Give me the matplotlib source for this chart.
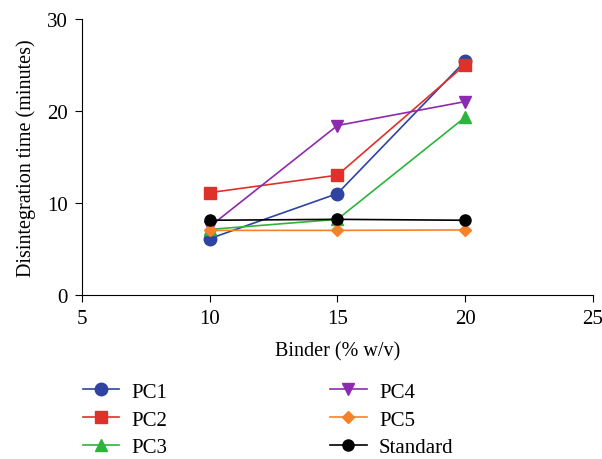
import matplotlib.pyplot as plt
import numpy as np

plt.rcParams['font.family'] = ['Liberation Serif', 'DejaVu Serif']

binder = [10, 15, 20]
pc1 = [6.1, 11.0, 25.4]
pc2 = [11.1, 13.0, 25.0]
pc3 = [7.1, 8.2, 19.3]
pc4 = [7.4, 18.4, 21.0]
pc5 = [7.0, 7.0, 7.05]
standard = [8.1, 8.2, 8.1]

series = [
    ("PC1", pc1, "#2E44A0", "o", 9),
    ("PC2", pc2, "#E0302A", "s", 8),
    ("PC3", pc3, "#2DB43C", "^", 9),
    ("PC4", pc4, "#8E2AB0", "v", 9),
    ("PC5", pc5, "#F5822A", "D", 6.5),
    ("Standard", standard, "#000000", "o", 8),
]

fig = plt.figure(figsize=(6.02, 4.60), dpi=100)
ax = fig.add_axes([0.136, 0.357, 0.849, 0.6])

handles = []
for name, vals, col, mk, ms in series:
    h, = ax.plot(binder, vals, color=col, marker=mk, markersize=ms, linewidth=1.2, label=name)
    handles.append(h)

ax.set_xlim(5, 25)
ax.set_ylim(0, 30)
ax.set_xticks([5, 10, 15, 20, 25])
ax.set_yticks([0, 10, 20, 30])
ax.spines['top'].set_visible(False)
ax.spines['right'].set_visible(False)
ax.tick_params(labelsize=15, length=5, pad=5)
ax.set_xlabel("Binder (% w/v)", fontsize=14.5, labelpad=10)
ax.set_ylabel("Disintegration time (minutes)", fontsize=14.5, labelpad=8)

fig.legend(handles, [s[0] for s in series],
           loc='upper left', bbox_to_anchor=(0.12, 0.19), ncol=2, frameon=False,
           fontsize=15, columnspacing=7.8, handlelength=1.75, handletextpad=0.6,
           labelspacing=0.4, borderpad=0)

fig.savefig("out.png", dpi=100)
